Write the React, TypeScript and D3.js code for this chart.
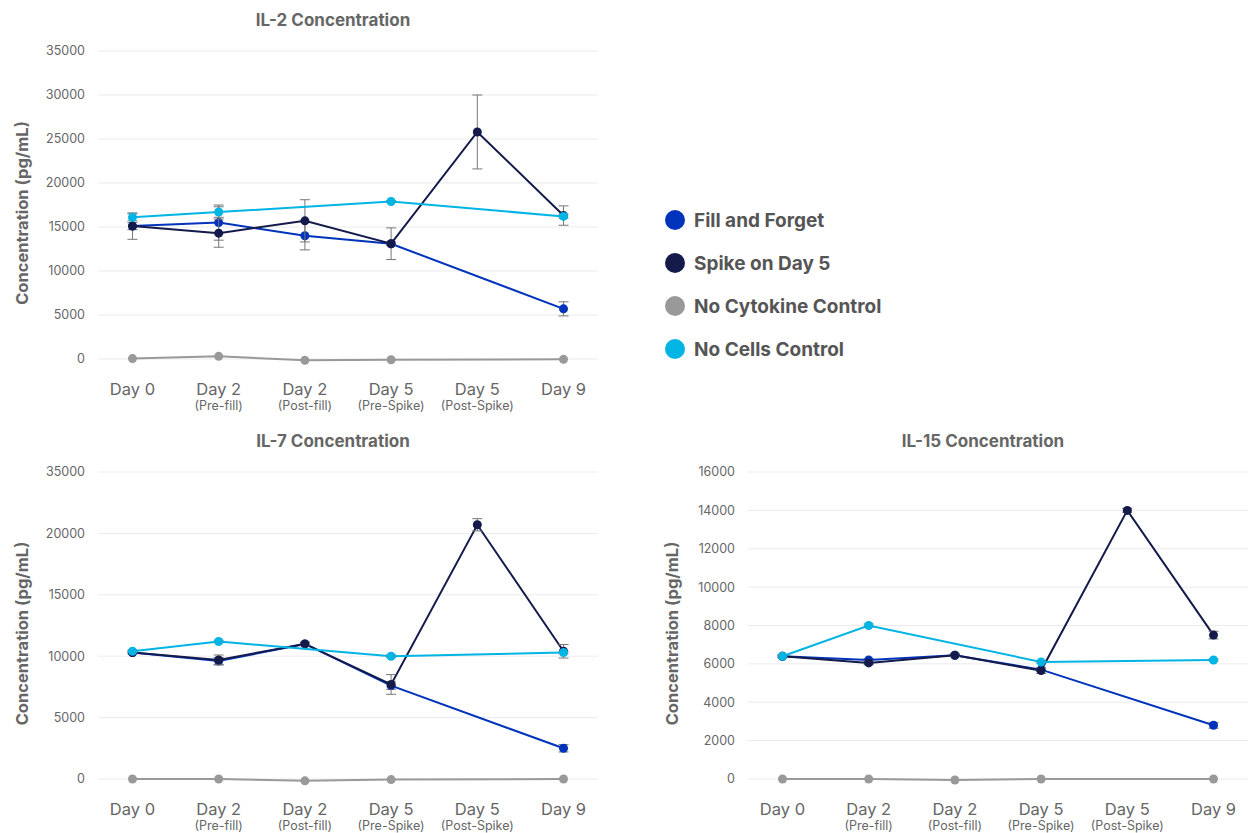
import React, { useEffect } from "react";
import * as d3 from "d3";

// ---------- DATA ----------
const categories = ["Day 0", "Day 2", "Day 2", "Day 5", "Day 5", "Day 9"];
const subLabels = ["", "(Pre-fill)", "(Post-fill)", "(Pre-Spike)", "(Post-Spike)", ""];

const seriesNames = ["Fill and Forget", "Spike on Day 5", "No Cytokine Control", "No Cells Control"];
const seriesColors = ["#0033BB", "#141A4A", "#999999", "#00B4E4"];

type V = number | null;

// IL-2
const il2FillForget: V[] = [15100, 15500, 14000, 13100, null, 5700];
const il2FillForgetErr: V[] = [400, 2000, 1600, 200, null, 800];
const il2Spike: V[] = [15100, 14300, 15700, 13100, 25800, 16300];
const il2SpikeErr: V[] = [1500, 1600, 2400, 1800, 4200, 1100];
const il2NoCytokine: V[] = [50, 300, -150, -80, null, -40];
const il2NoCytokineErr: V[] = [0, 0, 0, 0, null, 0];
const il2NoCells: V[] = [16100, 16700, null, 17900, null, 16200];
const il2NoCellsErr: V[] = [400, 600, null, 100, null, 200];
const il2Ticks = [0, 5000, 10000, 15000, 20000, 25000, 30000, 35000];
const il2TickLabels = ["0", "5000", "10000", "15000", "20000", "25000", "30000", "35000"];

// IL-7
const il7FillForget: V[] = [10300, 9600, 11000, 7600, null, 2500];
const il7FillForgetErr: V[] = [100, 300, 100, 300, null, 300];
const il7Spike: V[] = [10300, 9700, 11000, 7700, 20700, 10400];
const il7SpikeErr: V[] = [100, 400, 150, 800, 500, 550];
const il7NoCytokine: V[] = [0, 0, -150, -50, null, 0];
const il7NoCytokineErr: V[] = [0, 0, 0, 0, null, 0];
const il7NoCells: V[] = [10400, 11200, null, 10000, null, 10300];
const il7NoCellsErr: V[] = [100, 100, null, 100, null, 100];
const il7Ticks = [0, 5000, 10000, 15000, 20000, 25000];
const il7TickLabels = ["0", "5000", "10000", "15000", "20000", "35000"];

// IL-15
const il15FillForget: V[] = [6400, 6200, 6450, 5700, null, 2800];
const il15FillForgetErr: V[] = [50, 80, 50, 100, null, 150];
const il15Spike: V[] = [6400, 6050, 6450, 5650, 14000, 7500];
const il15SpikeErr: V[] = [50, 100, 80, 150, 100, 200];
const il15NoCytokine: V[] = [0, 0, -50, 0, null, 0];
const il15NoCytokineErr: V[] = [0, 0, 0, 0, null, 0];
const il15NoCells: V[] = [6400, 8000, null, 6100, null, 6200];
const il15NoCellsErr: V[] = [50, 80, null, 50, null, 50];
const il15Ticks = [0, 2000, 4000, 6000, 8000, 10000, 12000, 14000, 16000];
const il15TickLabels = ["0", "2000", "4000", "6000", "8000", "10000", "12000", "14000", "16000"];

// ---------- STYLE ----------
const FONT = "Inter, 'Noto Sans', Roboto, sans-serif";
const TEXT = "#666666";

interface ChartProps {
  title: string;
  left: number;
  top: number;
  bottom: number;
  width: number;
  ticks: number[];
  tickLabels: string[];
  values: V[][];
  errors: V[][];
}

function Chart({ title, left, top, bottom, width, ticks, tickLabels, values, errors }: ChartProps) {
  const idx = categories.map((_, i) => String(i));
  const x = d3.scalePoint<string>().domain(idx).range([left, left + width]).padding(0.4);
  const y = d3.scaleLinear().domain([0, ticks[ticks.length - 1]]).range([bottom, top]);
  const line = d3
    .line<[number, number]>()
    .x((d) => d[0])
    .y((d) => d[1]);

  return (
    <g>
      <text
        x={left + 235}
        y={top - 25}
        textAnchor="middle"
        fontFamily={FONT}
        fontWeight={700}
        fontSize={17}
        fill={TEXT}
      >
        {title}
      </text>
      <text
        transform={`translate(${left - 70},${(top + bottom) / 2 + 8}) rotate(-90)`}
        textAnchor="middle"
        fontFamily={FONT}
        fontWeight={700}
        fontSize={16.5}
        fill={TEXT}
      >
        Concentration (pg/mL)
      </text>
      {ticks.map((t, i) => (
        <g key={"t" + i}>
          <line x1={left} x2={left + width} y1={y(t)} y2={y(t)} stroke="#ebebeb" strokeWidth={1} />
          <text
            x={left - 13}
            y={y(t)}
            dy="0.35em"
            textAnchor="end"
            fontFamily={FONT}
            fontSize={12.5}
            fill={TEXT}
          >
            {tickLabels[i]}
          </text>
        </g>
      ))}
      {categories.map((c, i) => (
        <g key={"c" + i}>
          <text
            x={x(String(i))}
            y={bottom + 36}
            textAnchor="middle"
            fontFamily={FONT}
            fontSize={16.5}
            fill={TEXT}
          >
            {c}
          </text>
          {subLabels[i] && (
            <text
              x={x(String(i))}
              y={bottom + 51}
              textAnchor="middle"
              fontFamily={FONT}
              fontSize={12.5}
              fill={TEXT}
            >
              {subLabels[i]}
            </text>
          )}
        </g>
      ))}
      {values.map((vals, s) => {
        const pts: [number, number][] = [];
        vals.forEach((v, i) => {
          if (v != null) pts.push([x(String(i)) as number, y(v)]);
        });
        return (
          <g key={"s" + s}>
            <path d={line(pts) || ""} fill="none" stroke={seriesColors[s]} strokeWidth={2} />
            {vals.map((v, i) => {
              const e = errors[s][i];
              if (v == null || !e) return null;
              const cx = x(String(i)) as number;
              return (
                <g key={"e" + i} stroke="#777" strokeWidth={1}>
                  <line x1={cx} x2={cx} y1={y(v - e)} y2={y(v + e)} />
                  <line x1={cx - 5} x2={cx + 5} y1={y(v - e)} y2={y(v - e)} />
                  <line x1={cx - 5} x2={cx + 5} y1={y(v + e)} y2={y(v + e)} />
                </g>
              );
            })}
            {vals.map((v, i) =>
              v == null ? null : (
                <circle key={"p" + i} cx={x(String(i))} cy={y(v)} r={4.5} fill={seriesColors[s]} />
              )
            )}
          </g>
        );
      })}
    </g>
  );
}

export default function App() {
  useEffect(() => {
    document.body.style.margin = "0";
  }, []);
  return (
    <svg
      width={1248}
      height={833}
      style={{ position: "absolute", left: 0, top: 0, background: "#fff" }}
    >
      <rect width={1248} height={833} fill="#fff" />
      <Chart
        title="IL-2 Concentration"
        left={98}
        top={51}
        bottom={359}
        width={500}
        ticks={il2Ticks}
        tickLabels={il2TickLabels}
        values={[il2FillForget, il2Spike, il2NoCytokine, il2NoCells]}
        errors={[il2FillForgetErr, il2SpikeErr, il2NoCytokineErr, il2NoCellsErr]}
      />
      <Chart
        title="IL-7 Concentration"
        left={98}
        top={472}
        bottom={779}
        width={500}
        ticks={il7Ticks}
        tickLabels={il7TickLabels}
        values={[il7FillForget, il7Spike, il7NoCytokine, il7NoCells]}
        errors={[il7FillForgetErr, il7SpikeErr, il7NoCytokineErr, il7NoCellsErr]}
      />
      <Chart
        title="IL-15 Concentration"
        left={748}
        top={472}
        bottom={779}
        width={500}
        ticks={il15Ticks}
        tickLabels={il15TickLabels}
        values={[il15FillForget, il15Spike, il15NoCytokine, il15NoCells]}
        errors={[il15FillForgetErr, il15SpikeErr, il15NoCytokineErr, il15NoCellsErr]}
      />
      {seriesNames.map((n, i) => (
        <g key={n}>
          <circle cx={675} cy={220 + i * 43} r={10} fill={seriesColors[i]} />
          <text
            x={694}
            y={220 + i * 43}
            dy="0.35em"
            fontFamily={FONT}
            fontWeight={700}
            fontSize={19}
            fill="#555"
          >
            {n}
          </text>
        </g>
      ))}
    </svg>
  );
}
